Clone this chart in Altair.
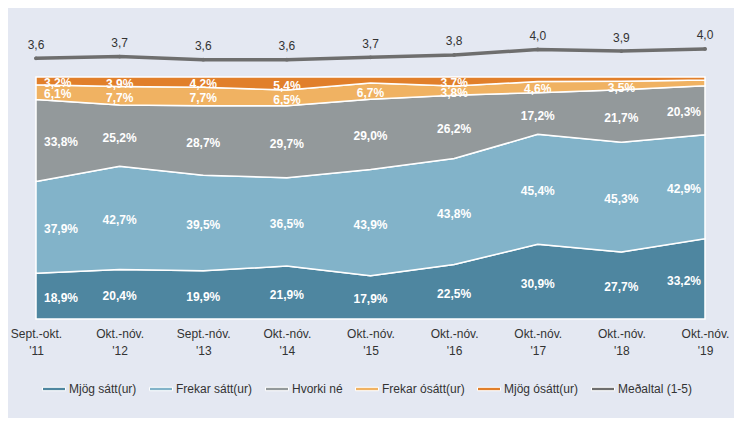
import altair as alt
import pandas as pd

periods = ["Sept.-okt.", "Okt.-nóv.", "Sept.-nóv.", "Okt.-nóv.", "Okt.-nóv.",
           "Okt.-nóv.", "Okt.-nóv.", "Okt.-nóv.", "Okt.-nóv."]
years = ["'11", "'12", "'13", "'14", "'15", "'16", "'17", "'18", "'19"]
series = ["Mjög sátt(ur)", "Frekar sátt(ur)", "Hvorki né", "Frekar ósátt(ur)", "Mjög ósátt(ur)"]
mean_name = "Meðaltal (1-5)"

mjog_satt = [18.9, 20.4, 19.9, 21.9, 17.9, 22.5, 30.9, 27.7, 33.2]
frekar_satt = [37.9, 42.7, 39.5, 36.5, 43.9, 43.8, 45.4, 45.3, 42.9]
hvorki = [33.8, 25.2, 28.7, 29.7, 29.0, 26.2, 17.2, 21.7, 20.3]
frekar_osatt = [6.1, 7.7, 7.7, 6.5, 6.7, 3.8, 4.6, 3.5, 2.4]
mjog_osatt = [3.2, 3.9, 4.2, 5.4, 2.5, 3.7, 1.9, 1.8, 1.2]
mean_vals = [3.62, 3.69, 3.56, 3.56, 3.66, 3.76, 3.99, 3.92, 4.01]

colors = ["#4e86a0", "#82b3c9", "#93999b", "#f0b262", "#e17f2a", "#6e6e6e"]
FONT = "Liberation Sans"

cats = [f"{p} {y}" for p, y in zip(periods, years)]
values = [mjog_satt, frekar_satt, hvorki, frekar_osatt, mjog_osatt]

rows = []
for k, (name, vals) in enumerate(zip(series, values)):
    for i, (c, v) in enumerate(zip(cats, vals)):
        rows.append({"cat": c, "i": i, "series": name, "k": k, "value": v})
df = pd.DataFrame(rows)

mdf = pd.DataFrame({"cat": cats, "mean": mean_vals})

n = len(cats)
xscale = alt.Scale(domain=cats, padding=0)
xaxis = alt.Axis(labelExpr="split(datum.label, ' ')", labelAngle=0,
                 domain=False, ticks=False, grid=False, labelPadding=9,
                 labelLineHeight=17, labelFontSize=12, labelColor="#333333",
                 labelFont=FONT, labelOverlap=False)
xenc = alt.X("cat:O", sort=cats, scale=xscale, title=None, axis=xaxis)
yscale = alt.Scale(domain=[0, 1], range=[289, 47])


def stacked(data):
    return alt.Chart(data).transform_stack(
        stack="value", groupby=["cat"], as_=["y0", "y1"], offset="normalize",
        sort=[alt.SortField("k", order="ascending")])


legend = alt.Legend(title=None, orient="none", legendX=6, legendY=347,
                    direction="horizontal", columns=6,
                    symbolType="M-1,-0.15L1,-0.15L1,0.15L-1,0.15Z", symbolSize=529,
                    symbolStrokeColor="white", symbolStrokeWidth=1, symbolOpacity=1,
                    labelFontSize=12, labelFont=FONT, labelColor="#333333",
                    labelOffset=3, columnPadding=10)

area = stacked(df).mark_area(stroke="white", strokeWidth=1.5, interpolate="linear",
                             opacity=1).encode(
    x=xenc,
    y=alt.Y("y0:Q", scale=yscale, axis=None),
    y2="y1:Q",
    color=alt.Color("series:N",
                    scale=alt.Scale(domain=series + [mean_name], range=colors),
                    legend=legend),
    order=alt.Order("k:Q"),
)

lab = stacked(df).transform_calculate(
    mid="(datum.y0 + datum.y1) / 2",
    txt="replace(format(datum.value, '.1f'), '.', ',') + '%'",
).transform_filter("datum.value >= 3")

lab_enc = dict(x=xenc,
               y=alt.Y("mid:Q", scale=yscale, axis=None),
               text="txt:N")
txt_style = dict(color="white", fontSize=12, fontWeight="bold", font=FONT,
                 baseline="middle", dy=2)

lab_first = lab.transform_filter("datum.i == 0").mark_text(
    align="left", dx=8, **txt_style).encode(**lab_enc)
lab_mid = lab.transform_filter(f"datum.i > 0 && datum.i < {n - 1}").mark_text(
    align="center", **txt_style).encode(**lab_enc)
lab_last = lab.transform_filter(f"datum.i == {n - 1}").mark_text(
    align="right", dx=-4, **txt_style).encode(**lab_enc)

mscale = alt.Scale(domain=[3.5, 4.1], range=[31.18, 16.78])
mline = alt.Chart(mdf).mark_line(color="#6e6e6e", strokeWidth=3.5, strokeCap="round",
                                 point=alt.OverlayMarkDef(color="#6e6e6e", size=14,
                                                          filled=True)).encode(
    x=xenc,
    y=alt.Y("mean:Q", scale=mscale, axis=None),
)
mlab = alt.Chart(mdf).transform_calculate(
    txt="replace(format(datum.mean, '.1f'), '.', ',')"
).mark_text(color="#333333", fontSize=12, font=FONT, baseline="middle", dy=-13.5).encode(
    x=xenc,
    y=alt.Y("mean:Q", scale=mscale, axis=None),
    text="txt:N",
)

chart = alt.layer(area, lab_first, lab_mid, lab_last, mline, mlab).resolve_scale(
    y="independent"
).properties(
    width=669, height=289, background="#e4e8f2",
    padding={"left": 28, "top": 22, "right": 29, "bottom": 99},
    autosize="none",
).configure_view(stroke=None)

chart.save("out.html", embed_options={"renderer": "svg", "actions": False})
